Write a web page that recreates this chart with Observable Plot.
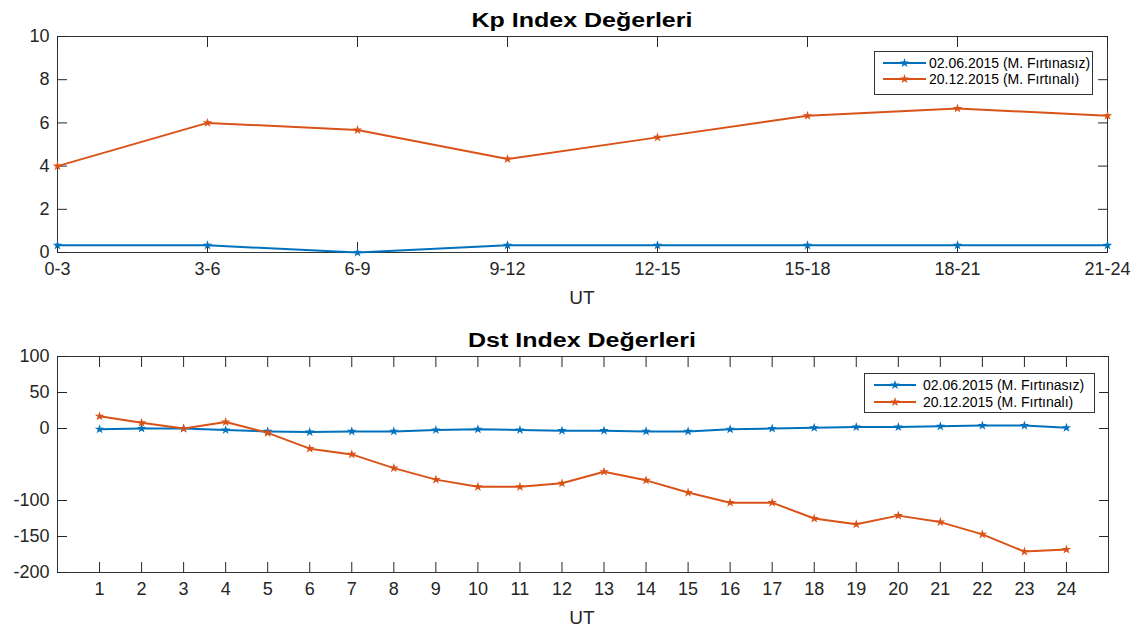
<!DOCTYPE html>
<html>
<head>
<meta charset="utf-8">
<script src="https://cdn.jsdelivr.net/npm/d3@7"></script>
<script src="https://cdn.jsdelivr.net/npm/@observablehq/plot@0.6"></script>
<style>
  body { margin: 0; background: #fff; font-family: "Liberation Sans", Arial, sans-serif; }
  #wrap { position: relative; width: 1139px; height: 633px; overflow: hidden; background: #fff; }
  .panel { position: absolute; left: 0; }
  .title { position: absolute; left: 57px; width: 1050px; text-align: center; font-weight: bold;
           font-size: 20px; line-height: 20px; color: #000; transform: scaleX(1.25); transform-origin: 50% 50%; z-index: 3; white-space: nowrap; }
  .xlabel { position: absolute; left: 57px; width: 1050px; text-align: center; font-size: 19px; line-height: 18px; color: #262626; z-index: 3; }
  .legend { position: absolute; background: #fff; border: 1px solid #333; box-sizing: border-box; z-index: 4; }
  .legend .row { position: absolute; left: 0; height: 16px; width: 100%; }
  .legend svg { position: absolute; left: 0; top: 0; overflow: visible; }
  .legend span { position: absolute; font-size: 14px; line-height: 16px; color: #000; white-space: nowrap; }
</style>
</head>
<body>
<div id="wrap"></div>
<script>
// ---- data ----
const seriesNames = ["02.06.2015 (M. Fırtınasız)", "20.12.2015 (M. Fırtınalı)"];
const seriesColors = ["#0072BD", "#D95319"];

const kpCategories = ["0-3", "3-6", "6-9", "9-12", "12-15", "15-18", "18-21", "21-24"];
const kpQuiet = [0.33, 0.33, 0, 0.33, 0.33, 0.33, 0.33, 0.33];
const kpStorm = [4, 6, 5.67, 4.33, 5.33, 6.33, 6.67, 6.33];
const kpYTicks = [0, 2, 4, 6, 8, 10];

const dstHours = [1, 2, 3, 4, 5, 6, 7, 8, 9, 10, 11, 12, 13, 14, 15, 16, 17, 18, 19, 20, 21, 22, 23, 24];
const dstQuiet = [-1, 0, 0, -2, -4, -5, -4, -4, -2, -1, -2, -3, -3, -4, -4, -1, 0, 1, 2, 2, 3, 4, 4, 1];
const dstStorm = [17, 8, 0, 9, -6, -28, -36, -55, -71, -81, -81, -76, -60, -72, -89, -103, -103, -125, -133, -121, -130, -147, -171, -168];
const dstYTicks = [100, 50, 0, -100, -150, -200];

const kpTitle = "Kp Index Değerleri";
const dstTitle = "Dst Index Değerleri";
const xAxisLabel = "UT";

// ---- tables ----
const kpData = [];
kpCategories.forEach((c, i) => kpData.push({ x: c, value: kpQuiet[i], series: seriesNames[0] }));
kpCategories.forEach((c, i) => kpData.push({ x: c, value: kpStorm[i], series: seriesNames[1] }));
const dstData = [];
dstHours.forEach((h, i) => dstData.push({ x: h, value: dstQuiet[i], series: seriesNames[0] }));
dstHours.forEach((h, i) => dstData.push({ x: h, value: dstStorm[i], series: seriesNames[1] }));

const axisColor = "#333";
const markerR = 3;
const commonStyle = { fontFamily: "'Liberation Sans', Arial, sans-serif", fontSize: "18px", color: "#262626", background: "transparent", overflow: "visible" };

const kpPlot = Plot.plot({
  width: 1139, height: 320,
  marginTop: 36, marginBottom: 68, marginLeft: 57, marginRight: 32,
  style: commonStyle,
  x: { type: "point", domain: kpCategories, padding: 0 },
  y: { domain: [0, 10] },
  color: { domain: seriesNames, range: seriesColors },
  marks: [
    Plot.frame({ stroke: axisColor }),
    Plot.axisX({ anchor: "bottom", tickSize: -10, tickPadding: 20, label: null }),
    Plot.axisX({ anchor: "top", tickSize: -10, tickFormat: () => "", label: null }),
    Plot.axisY({ anchor: "left", ticks: kpYTicks, tickSize: -10, tickPadding: 18, label: null }),
    Plot.axisY({ anchor: "right", ticks: kpYTicks, tickSize: -10, tickFormat: () => "", label: null }),
    Plot.line(kpData, { x: "x", y: "value", z: "series", stroke: "series", strokeWidth: 2 }),
    Plot.dot(kpData, { x: "x", y: "value", fill: "series", symbol: "star", r: markerR })
  ]
});

const dstPlot = Plot.plot({
  width: 1139, height: 313,
  marginTop: 36, marginBottom: 61, marginLeft: 57, marginRight: 31,
  style: commonStyle,
  x: { domain: [0, 25] },
  y: { domain: [-200, 100] },
  color: { domain: seriesNames, range: seriesColors },
  marks: [
    Plot.frame({ stroke: axisColor }),
    Plot.axisX({ anchor: "bottom", ticks: dstHours, tickSize: -10, tickPadding: 20, tickFormat: d => String(d), label: null }),
    Plot.axisX({ anchor: "top", ticks: dstHours, tickSize: -10, tickFormat: () => "", label: null }),
    Plot.axisY({ anchor: "left", ticks: dstYTicks, tickSize: -10, tickPadding: 18, tickFormat: d => String(d), label: null }),
    Plot.axisY({ anchor: "right", ticks: dstYTicks, tickSize: -10, tickFormat: () => "", label: null }),
    Plot.line(dstData, { x: "x", y: "value", z: "series", stroke: "series", strokeWidth: 2 }),
    Plot.dot(dstData, { x: "x", y: "value", fill: "series", symbol: "star", r: markerR })
  ]
});

const wrap = document.getElementById("wrap");
function place(el, top) {
  const d = document.createElement("div");
  d.className = "panel";
  d.style.top = top + "px";
  d.appendChild(el);
  wrap.appendChild(d);
}
place(kpPlot, 0);
place(dstPlot, 320);

function addText(cls, text, top) {
  const d = document.createElement("div");
  d.className = cls;
  d.style.top = top + "px";
  d.textContent = text;
  wrap.appendChild(d);
}
addText("title", kpTitle, 10);
addText("title", dstTitle, 330);
addText("xlabel", xAxisLabel, 289);
addText("xlabel", xAxisLabel, 609);

const starPath = d3.symbol(d3.symbolStar, Math.PI * markerR * markerR)();
function addLegend(left, top, width, height, rows, sw1, sw2, textX) {
  const box = document.createElement("div");
  box.className = "legend";
  Object.assign(box.style, { left: left + "px", top: top + "px", width: width + "px", height: height + "px" });
  seriesNames.forEach((name, i) => {
    const row = document.createElement("div");
    row.className = "row";
    row.style.top = (rows[i] - 8) + "px";
    const mid = (sw1 + sw2) / 2;
    row.innerHTML = `<svg width="${sw2 + 4}" height="16">
      <line x1="${sw1}" x2="${sw2}" y1="8" y2="8" stroke="${seriesColors[i]}" stroke-width="2"></line>
      <path d="${starPath}" transform="translate(${mid},8)" fill="${seriesColors[i]}"></path></svg>`;
    const s = document.createElement("span");
    s.style.left = textX + "px";
    s.style.top = "0px";
    s.textContent = name;
    row.appendChild(s);
    box.appendChild(row);
  });
  wrap.appendChild(box);
}
addLegend(874, 51, 219, 44, [11, 27], 8, 51, 54);
addLegend(864, 373, 231, 40, [11, 28], 9, 51, 58);
</script>
</body>
</html>
